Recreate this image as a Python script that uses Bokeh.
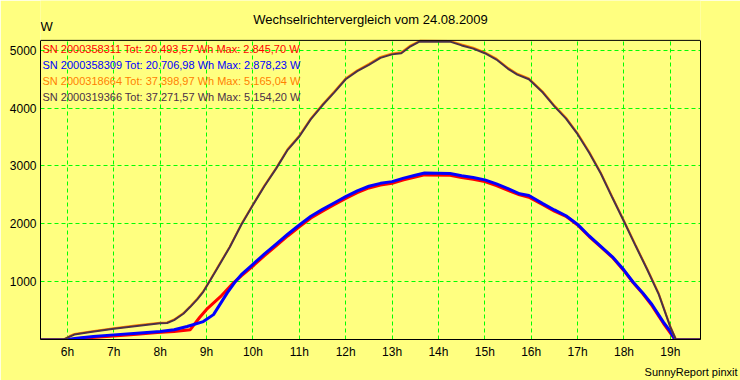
from bokeh.plotting import figure
from bokeh.models import Range1d, FixedTicker, Label, Title, Span, LinearAxis, Grid
from bokeh.embed import file_html
from bokeh.resources import INLINE

# ---------------- data ----------------
title_text = "Wechselrichtervergleich vom 24.08.2009"
unit_text = "W"
footer_text = "SunnyReport pinxit"

hour_ticks = [6, 7, 8, 9, 10, 11, 12, 13, 14, 15, 16, 17, 18, 19]
hour_labels = ["6h", "7h", "8h", "9h", "10h", "11h", "12h", "13h", "14h", "15h", "16h", "17h", "18h", "19h"]
watt_ticks = [1000, 2000, 3000, 4000, 5000]

series_names = [
    "SN 2000358311 Tot: 20.493,57 Wh Max: 2.845,70 W",
    "SN 2000358309 Tot: 20.706,98 Wh Max: 2.878,23 W",
    "SN 2000318664 Tot: 37.398,97 Wh Max: 5.165,04 W",
    "SN 2000319366 Tot: 37.271,57 Wh Max: 5.154,20 W",
]
series_colors = ["#ff0000", "#0000ff", "#ff8000", "#4b3048"]

t_red = [5.42, 6.1, 6.3, 7.0, 7.5, 7.94, 8.3, 8.65, 8.85, 9.0, 9.3, 9.58, 9.75, 10.0, 10.25, 10.5, 10.75,
         11.0, 11.25, 11.5, 11.75, 12.0, 12.25, 12.5, 12.75, 13.0, 13.25, 13.5, 13.7, 14.25, 14.5, 14.75,
         15.0, 15.25, 15.5, 15.75, 15.95, 16.25, 16.5, 16.75, 17.0, 17.25, 17.5, 17.75, 18.0, 18.2, 18.4,
         18.6, 18.85, 19.1, 19.65]
w_red = [0, 0, 20, 60, 90, 120, 140, 170, 380, 520, 740, 980, 1100, 1270, 1450, 1620, 1790,
         1950, 2100, 2220, 2330, 2440, 2540, 2620, 2670, 2700, 2760, 2810, 2846, 2840, 2800, 2770,
         2730, 2660, 2580, 2500, 2460, 2330, 2220, 2130, 1980, 1780, 1600, 1420, 1190, 980, 800,
         590, 280, 0, 0]

t_blue = [5.42, 6.0, 6.2, 6.56, 7.0, 7.5, 8.0, 8.3, 8.58, 8.93, 9.15, 9.3, 9.45, 9.62, 9.75, 10.0, 10.25,
          10.5, 10.75, 11.0, 11.25, 11.5, 11.75, 12.0, 12.25, 12.5, 12.75, 13.0, 13.25, 13.5, 13.7, 14.25,
          14.5, 14.75, 15.0, 15.25, 15.5, 15.75, 15.95, 16.25, 16.5, 16.75, 17.0, 17.25, 17.5, 17.75, 18.0,
          18.2, 18.4, 18.6, 18.85, 19.0, 19.1, 19.65]
w_blue = [0, 0, 20, 50, 80, 110, 140, 170, 225, 310, 430, 620, 810, 1000, 1120, 1300, 1480,
          1650, 1820, 1980, 2130, 2250, 2360, 2470, 2570, 2650, 2700, 2730, 2790, 2840, 2878, 2870,
          2830, 2800, 2760, 2690, 2610, 2520, 2490, 2350, 2240, 2140, 1990, 1790, 1610, 1430, 1200,
          990, 810, 610, 300, 140, 0, 0]

t_big = [5.42, 5.92, 6.05, 6.15, 6.5, 7.0, 7.5, 8.0, 8.15, 8.3, 8.5, 8.65, 8.8, 8.93, 9.08, 9.25, 9.5,
         9.75, 10.0, 10.25, 10.5, 10.75, 11.0, 11.25, 11.5, 11.75, 12.0, 12.25, 12.5, 12.75, 13.0, 13.2,
         13.4, 13.6, 14.25, 14.5, 14.75, 15.0, 15.25, 15.5, 15.7, 15.95, 16.25, 16.5, 16.75, 17.0, 17.25,
         17.5, 17.75, 18.0, 18.25, 18.5, 18.75, 19.0, 19.12, 19.65]
w_orange = [0, 0, 60, 95, 140, 195, 245, 290, 295, 345, 455, 575, 705, 835, 1035, 1265, 1605,
            1995, 2335, 2665, 2965, 3295, 3525, 3825, 4065, 4285, 4515, 4655, 4765, 4885, 4945, 4965,
            5085, 5165, 5160, 5100, 5045, 4965, 4855, 4695, 4595, 4515, 4285, 4045, 3835, 3565, 3245,
            2885, 2465, 2055, 1635, 1225, 795, 225, 0, 0]
w_dark = [0, 0, 50, 85, 130, 185, 235, 280, 285, 335, 445, 565, 695, 825, 1025, 1255, 1595,
          1985, 2325, 2655, 2955, 3280, 3510, 3810, 4050, 4270, 4500, 4640, 4750, 4870, 4930, 4950,
          5070, 5154, 5150, 5085, 5030, 4950, 4840, 4680, 4580, 4500, 4270, 4030, 3820, 3550, 3230,
          2870, 2450, 2040, 1620, 1210, 780, 215, 0, 0]

X_START, X_END = 5.42, 19.65
Y_TOP = 5172          # value at the top edge of the drawn plot box

# ---------------- style / layout ----------------
BG = "#ffff80"
GRID = "#00ff00"
FONT = "Liberation Sans"
W, H = 740, 380
BORDER_L, BORDER_R, BORDER_B = 40, 40, 40
BOX_TOP_PX = 40                       # plot box top (px from canvas top)
FRAME_H = H - BORDER_B                # frame reaches the canvas top
BOX_H = FRAME_H - BOX_TOP_PX
y_end = Y_TOP * FRAME_H / BOX_H

p = figure(width=W, height=H, output_backend="svg", toolbar_location=None,
           x_range=Range1d(X_START, X_END), y_range=Range1d(0, y_end),
           min_border_left=BORDER_L, min_border_right=BORDER_R, min_border_top=0,
           min_border_bottom=BORDER_B)
p.background_fill_color = BG
p.border_fill_color = BG
p.outline_line_color = None

p.xaxis.ticker = FixedTicker(ticks=hour_ticks)
p.xaxis.major_label_overrides = {h: lab for h, lab in zip(hour_ticks, hour_labels)}
p.yaxis.ticker = FixedTicker(ticks=watt_ticks)
p.yaxis.bounds = (0, Y_TOP)
for ax in (p.xaxis, p.yaxis):
    ax.axis_line_color = "black"
    ax.major_tick_out = 0
    ax.major_tick_in = 0
    ax.minor_tick_out = 0
    ax.minor_tick_in = 0
    ax.major_tick_line_color = None
    ax.minor_tick_line_color = None
    ax.major_label_text_font = FONT
    ax.major_label_text_font_size = "12px"
    ax.major_label_text_color = "black"
p.xaxis.major_label_standoff = 5
p.yaxis.major_label_standoff = 4

# right edge of the plot box
right_ax = LinearAxis(bounds=(0, Y_TOP), ticker=FixedTicker(ticks=[]), major_tick_out=0,
                      major_tick_in=0, minor_tick_out=0, minor_tick_in=0,
                      major_label_text_font_size="0px", axis_line_color="black")
p.add_layout(right_ax, "right")
# top edge of the plot box
p.add_layout(Span(location=Y_TOP, dimension="width", line_color="black", line_width=1))

p.xgrid.ticker = FixedTicker(ticks=hour_ticks)
p.ygrid.ticker = FixedTicker(ticks=watt_ticks)
for g in (p.xgrid, p.ygrid):
    g.grid_line_color = GRID
    g.grid_line_dash = "4 3"
    g.grid_line_width = 1
if "cross_bounds" in Grid.properties():
    p.xgrid.cross_bounds = (0, Y_TOP)

p.line(t_red, w_red, line_color=series_colors[0], line_width=3)
p.line(t_blue, w_blue, line_color=series_colors[1], line_width=3)
p.line(t_big, w_orange, line_color=series_colors[2], line_width=2)
p.line(t_big, w_dark, line_color=series_colors[3], line_width=2)

# texts (screen units from the frame's bottom-left corner)
p.add_layout(Label(x=330, y=FRAME_H - 20, x_units="screen", y_units="screen", text=title_text,
                   text_align="center", text_baseline="middle", text_font=FONT,
                   text_font_size="13px", text_color="black"))
p.add_layout(Label(x=0, y=FRAME_H - 27, x_units="screen", y_units="screen", text=unit_text,
                   text_align="left", text_baseline="middle", text_font=FONT,
                   text_font_size="13px", text_color="black"))
for i, (name, col) in enumerate(zip(series_names, series_colors)):
    p.add_layout(Label(x=2, y=FRAME_H - 49 - 16 * i, x_units="screen", y_units="screen", text=name,
                       text_align="left", text_baseline="middle", text_font=FONT,
                       text_font_size="11px", text_color=col))

p.add_layout(Title(text=footer_text, align="right", offset=-37, standoff=5, text_font=FONT,
                   text_font_size="11px", text_font_style="normal", text_color="black"), "below")

open("out.html", "w").write(file_html(p, INLINE))
